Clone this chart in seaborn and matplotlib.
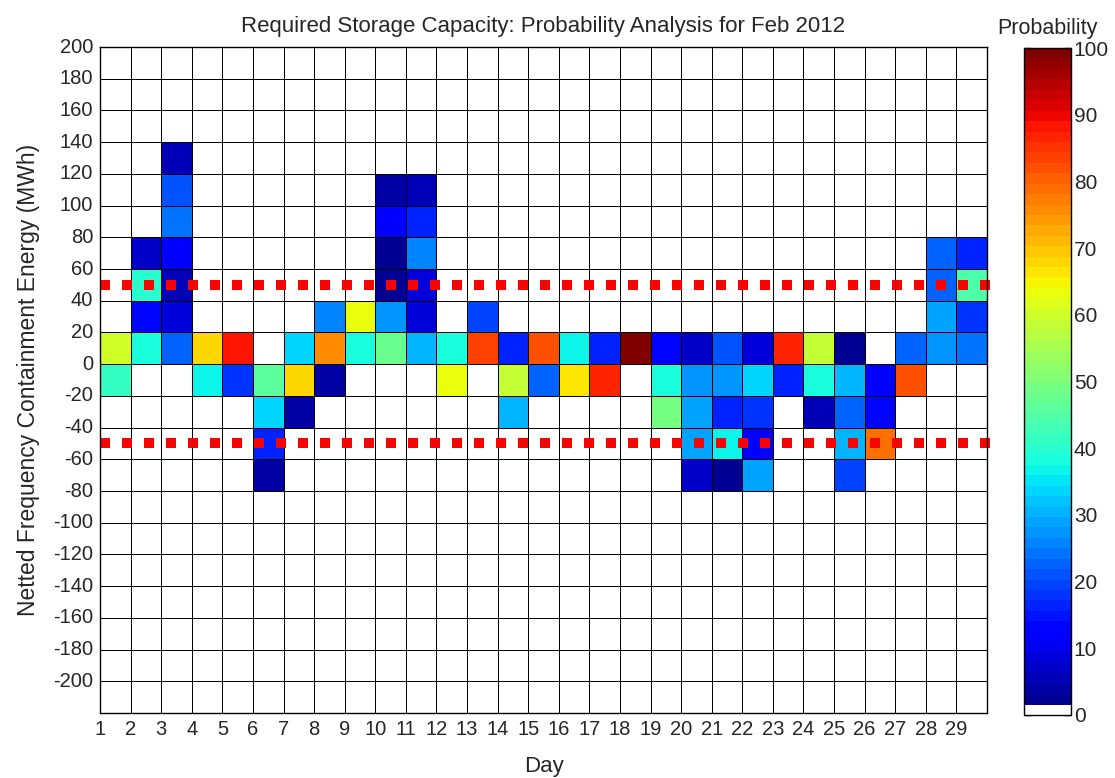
import numpy as np
import pandas as pd
import seaborn as sns
import matplotlib
matplotlib.use("Agg")
import matplotlib.pyplot as plt
from matplotlib.colors import ListedColormap

sns.set_style("white")
plt.rcParams['font.family'] = ['Liberation Sans', 'DejaVu Sans']

# days in Feb 2012 and energy bin edges (MWh), top to bottom
days = list(range(1, 30))
bin_edges = list(range(200, -221, -20))
bin_low = bin_edges[1:]

# non-empty cells: day, lower bin edge, probability (%)
cell_day = [1, 1,
            2, 2, 2, 2,
            3, 3, 3, 3, 3, 3, 3,
            4, 4,
            5, 5,
            6, 6, 6, 6,
            7, 7, 7,
            8, 8, 8,
            9, 9,
            10, 10, 10, 10, 10, 10,
            11, 11, 11, 11, 11, 11,
            12, 12,
            13, 13,
            14, 14, 14,
            15, 15,
            16, 16,
            17, 17,
            18,
            19, 19, 19,
            20, 20, 20, 20, 20,
            21, 21, 21, 21, 21,
            22, 22, 22, 22, 22,
            23, 23,
            24, 24, 24,
            25, 25, 25, 25, 25,
            26, 26, 26,
            27, 27,
            28, 28, 28, 28,
            29, 29, 29, 29]
cell_bin = [0, -20,
            60, 40, 20, 0,
            120, 100, 80, 60, 40, 20, 0,
            0, -20,
            0, -20,
            -20, -40, -60, -80,
            0, -20, -40,
            20, 0, -20,
            20, 0,
            100, 80, 60, 40, 20, 0,
            100, 80, 60, 40, 20, 0,
            0, -20,
            20, 0,
            0, -20, -40,
            0, -20,
            0, -20,
            0, -20,
            0,
            0, -20, -40,
            0, -20, -40, -60, -80,
            0, -20, -40, -60, -80,
            0, -20, -40, -60, -80,
            0, -20,
            0, -20, -40,
            0, -20, -40, -60, -80,
            -20, -40, -60,
            0, -20,
            60, 40, 20, 0,
            60, 40, 20, 0]
cell_prob = [60, 42,
             7, 40, 14, 38,
             5, 21, 24, 12, 6, 8, 22,
             68, 36,
             88, 18,
             46, 34, 17, 4,
             34, 68, 4,
             25, 76, 4,
             63, 38,
             4, 12, 3, 3, 27, 47,
             6, 17, 26, 9, 9, 31,
             39, 63,
             20, 84,
             16, 58, 30,
             82, 22,
             36, 67,
             17, 86,
             100,
             13, 39, 49,
             7, 28, 29, 29, 7,
             21, 27, 16, 36, 3,
             8, 34, 18, 12, 29,
             87, 17,
             58, 38, 6,
             3, 30, 23, 31, 20,
             12, 14, 79,
             22, 82,
             23, 22, 29, 28,
             17, 45, 18, 24]

storage_limits = [50, -50]

prob = pd.DataFrame(0.0, index=bin_low, columns=days)
for d, b, p in zip(cell_day, cell_bin, cell_prob):
    prob.loc[b, d] = p

# jet with white for "no probability"
jet_cols = plt.get_cmap('jet', 64)(np.arange(64))
jet_cols[0] = [1, 1, 1, 1]
cmap = ListedColormap(jet_cols)

fig = plt.figure(figsize=(11.15, 7.78), dpi=100)
ax = fig.add_axes([0.0897, 0.0835, 0.7955, 0.856])
cax = fig.add_axes([0.9184, 0.081, 0.0422, 0.857])

sns.heatmap(prob, ax=ax, cmap=cmap, vmin=0, vmax=100,
            linewidths=0.65, linecolor='black', cbar_ax=cax,
            cbar_kws=dict(ticks=np.arange(0, 101, 10)))

ax.set_xticks(np.arange(len(days)))
ax.set_xticklabels(days, rotation=0)
ax.set_yticks(np.arange(len(bin_low)))
ax.set_yticklabels(bin_edges[:-1], rotation=0)
ax.tick_params(length=0, labelsize=14.5, pad=5)
for s in ax.spines.values():
    s.set_visible(True)
    s.set_color('black')
    s.set_linewidth(1)

step = bin_edges[0] - bin_edges[1]
for lim in storage_limits:
    ax.axhline((bin_edges[0] - lim) / step, xmin=0, xmax=1.013, color='red',
               lw=7.2, linestyle=(0, (1, 1.2)), dash_capstyle='butt', clip_on=False)

ax.set_title('Required Storage Capacity: Probability Analysis for Feb 2012', fontsize=16, pad=11)
ax.set_xlabel('Day', fontsize=16, labelpad=12)
ax.set_ylabel('Netted Frequency Containment Energy (MWh)', fontsize=16.5, labelpad=9)

cbar = ax.collections[0].colorbar
cbar.outline.set_edgecolor('black')
cbar.outline.set_linewidth(1)
cax.tick_params(direction='in', length=5, width=1, labelsize=15, left=True, right=True, pad=2)
cax.set_title('Probability', fontsize=15.5, pad=10)

fig.savefig('out.png', dpi=100)
